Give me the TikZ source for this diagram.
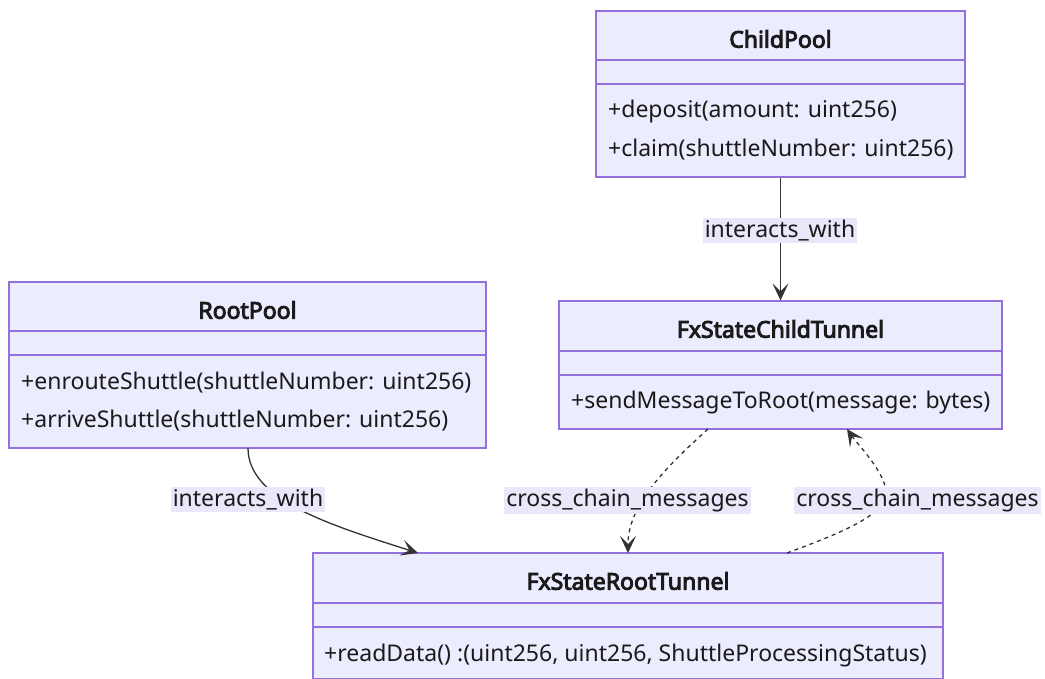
\documentclass[tikz,border=0pt]{standalone}
\usepackage{fontspec}
\setmainfont{Noto Sans}[BoldFont={Noto Sans},BoldFeatures={FakeBold=4}]
\usetikzlibrary{arrows.meta}
\definecolor{boxfill}{HTML}{ECECFF}
\definecolor{boxline}{HTML}{9370DB}
\definecolor{ink}{HTML}{1A1A1A}
\definecolor{edge}{HTML}{333333}
\definecolor{labelbg}{HTML}{E8E8FA}
\begin{document}
\begin{tikzpicture}[x=1pt,y=-1pt,
  font=\fontsize{23}{27}\selectfont,
  classbox/.style={draw=boxline, fill=boxfill, line width=1.2pt, inner sep=0pt},
  divider/.style={draw=boxline, line width=1.2pt},
  title/.style={font=\fontsize{23}{27}\selectfont\bfseries, text=ink, inner sep=0pt},
  member/.style={anchor=west, text=ink, inner sep=0pt},
  elabel/.style={fill=labelbg, text=ink, inner xsep=2pt, inner ysep=2pt},
  link/.style={draw=edge, line width=1.3pt, -{Stealth[length=17pt,width=16pt,inset=8pt]}},
  msglink/.style={link, dash pattern=on 4pt off 4pt}]
\useasboundingbox (0,0) rectangle (1045,679);

% ChildPool
\node[classbox, minimum width=369pt, minimum height=166pt] (cp) at (780.5,94) {};
\draw[divider] (596,60) -- (965,60);
\draw[divider] (596,84) -- (965,84);
\node[title] (cpt) at (780.5,39) {ChildPool};
\node[member] (cpm1) at (608,112) {+deposit(amount: uint256)};
\node[member] (cpm2) at (608,150) {+claim(shuttleNumber: uint256)};

% RootPool
\node[classbox, minimum width=477pt, minimum height=166pt] (rp) at (247.5,365) {};
\draw[divider] (9,331) -- (486,331);
\draw[divider] (9,355) -- (486,355);
\node[title] (rpt) at (247.5,310) {RootPool};
\node[member] (rpm1) at (21,383) {+enrouteShuttle(shuttleNumber: uint256)};
\node[member] (rpm2) at (21,421) {+arriveShuttle(shuttleNumber: uint256)};

% FxStateChildTunnel
\node[classbox, minimum width=443pt, minimum height=128pt] (ct) at (780.5,365) {};
\draw[divider] (559,351) -- (1002,351);
\draw[divider] (559,375) -- (1002,375);
\node[title] (ctt) at (780.5,329) {FxStateChildTunnel};
\node[member] (ctm1) at (571,403) {+sendMessageToRoot(message: bytes)};

% FxStateRootTunnel
\node[classbox, minimum width=630pt, minimum height=126pt] (rt) at (628,616) {};
\draw[divider] (313,603) -- (943,603);
\draw[divider] (313,627) -- (943,627);
\node[title] (rtt) at (628,581) {FxStateRootTunnel};
\node[member] (rtm1) at (324,656) {+readData() :(uint256, uint256, ShuttleProcessingStatus)};

% connector end points on the box borders
\coordinate (rpout) at (248,448);
\coordinate (rtin) at (418,553);
\coordinate (ctout) at (708,429);
\coordinate (rtin2) at (628,553);
\coordinate (rtout) at (787,553);
\coordinate (ctin) at (847,429);
\coordinate (via) at (885,500);

% relations
\draw[link] (cp.south) -- (ct.north);
\draw[link] (rpout) .. controls (248,500) and (330,525) .. (rtin);
\draw[msglink] (ctout) .. controls (665,468) and (628,505) .. (rtin2);
\draw[msglink] (rtout) .. controls (830,537) and (875,520) .. (via)
  .. controls (893,480) and (858,445) .. (ctin);

% relation labels
\node[elabel] (l1) at (780,230.5) {interacts\_with};
\node[elabel] (l2) at (248,499.5) {interacts\_with};
\node[elabel] (l3) at (627.5,500.5) {cross\_chain\_messages};
\node[elabel] (l4) at (917.5,500.5) {cross\_chain\_messages};
\end{tikzpicture}
\end{document}
